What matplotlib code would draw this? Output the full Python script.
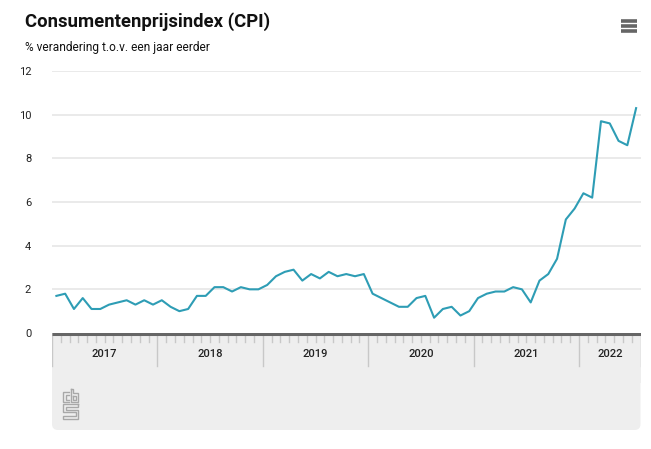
import matplotlib
matplotlib.use("Agg")
import matplotlib.pyplot as plt
from matplotlib.patches import FancyBboxPatch, Rectangle
import numpy as np

years = ["2017", "2018", "2019", "2020", "2021", "2022"]
cpi_2017 = [1.7, 1.8, 1.1, 1.6, 1.1, 1.1, 1.3, 1.4, 1.5, 1.3, 1.5, 1.3]
cpi_2018 = [1.5, 1.2, 1.0, 1.1, 1.7, 1.7, 2.1, 2.1, 1.9, 2.1, 2.0, 2.0]
cpi_2019 = [2.2, 2.6, 2.8, 2.9, 2.4, 2.7, 2.5, 2.8, 2.6, 2.7, 2.6, 2.7]
cpi_2020 = [1.8, 1.6, 1.4, 1.2, 1.2, 1.6, 1.7, 0.7, 1.1, 1.2, 0.8, 1.0]
cpi_2021 = [1.6, 1.8, 1.9, 1.9, 2.1, 2.0, 1.4, 2.4, 2.7, 3.4, 5.2, 5.7]
cpi_2022 = [6.4, 6.2, 9.7, 9.6, 8.8, 8.6, 10.3]
y_ticks = [0, 2, 4, 6, 8, 10, 12]

values = cpi_2017 + cpi_2018 + cpi_2019 + cpi_2020 + cpi_2021 + cpi_2022
x = np.arange(len(values))

W, H = 651, 449
fig = plt.figure(figsize=(W / 100, H / 100), dpi=100)
fig.patch.set_facecolor("white")

FONT = ["Roboto", "DejaVu Sans"]

# pixel geometry
L, R, T, B = 52, 640.5, 71, 333
xmin, xmax = -0.5, len(values) - 0.5

# overlay for decorations (pixel coordinates)
deco = fig.add_axes([0, 0, 1, 1], zorder=0)
deco.set_xlim(0, W)
deco.set_ylim(H, 0)
deco.axis("off")

# grey band under the axis
deco.add_patch(Rectangle((L, B), R - L, 50, facecolor="#eeeeee", edgecolor="none"))
deco.add_patch(FancyBboxPatch((L + 6, B + 10), R - L - 12, 430 - B - 16,
                              boxstyle="round,pad=6", facecolor="#eeeeee",
                              edgecolor="none"))

# CBS logo (simple strokes)
lc = "#a8a8a8"
lw = 1.0
for path in [
    [(69, 392), (63, 392), (63, 402), (69, 402)],
    [(69, 394.5), (65.5, 394.5), (65.5, 399.5), (69, 399.5)],
    [(71, 389), (71, 402), (78, 402), (78, 393), (73, 393), (73, 389), (71, 389)],
    [(73, 395.5), (75.5, 395.5), (75.5, 399.5), (73, 399.5), (73, 395.5)],
    [(78, 404), (63, 404), (63, 412), (75.5, 412), (75.5, 416), (63, 416), (63, 419), (78, 419),
     (78, 410), (65.5, 410), (65.5, 406.5), (78, 406.5), (78, 404)],
]:
    px, py = zip(*path)
    deco.plot(px, py, color=lc, lw=lw, solid_joinstyle="miter")

# hamburger icon
for yy in [21, 26, 31]:
    deco.plot([621, 637], [yy, yy], color="#666666", lw=2.6, solid_capstyle="butt")

# titles
fig.text(25 / W, 1 - 22 / H, "Consumentenprijsindex (CPI)", fontsize=13.3,
         fontweight="bold", family=FONT, color="#111111", va="center", ha="left")
fig.text(25 / W, 1 - 47 / H, "% verandering t.o.v. een jaar eerder", fontsize=8.6,
         family=FONT, color="#111111", va="center", ha="left")

# main chart axes
ax = fig.add_axes([L / W, 1 - B / H, (R - L) / W, (B - T) / H], zorder=2)
ax.patch.set_alpha(0)
ax.set_xlim(xmin, xmax)
ax.set_ylim(0, 12)
for s in ["top", "right", "left", "bottom"]:
    ax.spines[s].set_visible(False)
ax.set_yticks(y_ticks)
ax.set_yticklabels([str(t) for t in y_ticks], family=FONT, fontsize=8, color="#222222")
ax.tick_params(axis="y", length=0, pad=15)
ax.set_xticks([])
for t in y_ticks[1:]:
    ax.axhline(t, color="#e6e6e6", lw=1.2, zorder=1)
ax.plot(x, values, color="#2e9db5", lw=1.5, zorder=3)

# axis line, month ticks, year separators, year labels
band = fig.add_axes([L / W, 1 - 372 / H, (R - L) / W, (372 - B) / H], zorder=3)
band.patch.set_alpha(0)
band.set_xlim(xmin, xmax)
band.set_ylim(372, B)
band.axis("off")
for m in range(len(values) + 1):
    xb = m - 0.5
    if m % 12 == 0 or m == len(values):
        band.plot([xb, xb], [B, 366], color="#c8c8c8", lw=1)
    else:
        band.plot([xb, xb], [B, 342], color="#c8c8c8", lw=1)
band.plot([xmin, xmax], [B + 1, B + 1], color="#666666", lw=2.2, solid_capstyle="butt")
for i, yr in enumerate(years):
    start = i * 12 - 0.5
    end = min((i + 1) * 12 - 0.5, xmax)
    band.text((start + end) / 2, 354, yr, ha="center", va="center",
              family=FONT, fontsize=8, fontweight="medium", color="#222222")

fig.savefig("out.png", dpi=100, facecolor="white")
